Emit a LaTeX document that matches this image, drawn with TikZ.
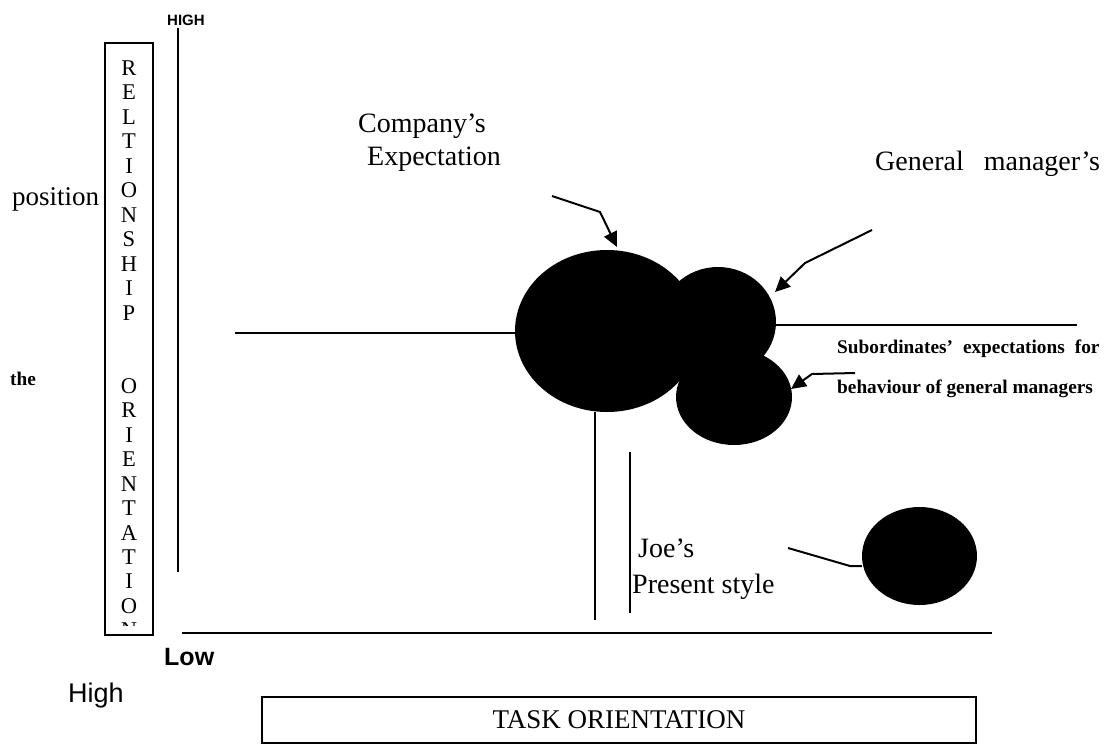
\documentclass[tikz,border=0pt]{standalone}
\usepackage{fontspec}
\setmainfont{Liberation Serif}
\setsansfont{Liberation Sans}
\usetikzlibrary{shapes.geometric,arrows.meta}
\tikzset{
  ln/.style={line width=2pt},
  arr/.style={line width=2pt,-{Triangle[length=15pt,width=14pt]}},
  blob/.style={ellipse,fill=black,draw=none,inner sep=0pt},
  big/.style={font=\fontsize{28}{33}\selectfont,inner sep=0pt,anchor=base west},
  small/.style={font=\bfseries\fontsize{19.3}{23}\selectfont,inner sep=0pt,anchor=base west},
  vlet/.style={font=\fontsize{22.5}{26}\selectfont,inner sep=0pt,anchor=base},
  sansl/.style={font=\sffamily\fontsize{27}{32}\selectfont,inner sep=0pt,anchor=base west},
  framebox/.style={draw,line width=2pt,inner sep=0pt}
}
\begin{document}
\begin{tikzpicture}[x=1pt,y=-1pt]
\useasboundingbox (0,0) rectangle (1117,745);
% axis label boxes
\node[framebox,minimum width=48pt,minimum height=592pt] (rbox) at (129,339) {};
\foreach \l [count=\i from 0] in {R,E,L,T,I,O,N,S,H,I,P}
  \node[vlet] (va\i) at (129,{75.5+24.45*\i}) {\l};
\foreach \l [count=\i from 13] in {O,R,I,E,N,T,A,T,I,O}
  \node[vlet] (vb\i) at (129,{75.5+24.45*\i}) {\l};
\begin{scope}
  \clip (106,44) rectangle (152,625.5);
  \node[vlet] (vn) at (129,{75.5+24.45*23}) {N};
\end{scope}
\node[framebox,minimum width=714pt,minimum height=46pt,font=\fontsize{27}{31}\selectfont] (tbox) at (619,720) {TASK ORIENTATION};
% labels
\node[font=\sffamily\bfseries\fontsize{15}{18}\selectfont,inner sep=0pt,anchor=base west] (high1) at (167,25) {HIGH};
\node[font=\sffamily\bfseries\fontsize{25}{30}\selectfont,inner sep=0pt,anchor=base west] (low) at (164,665) {Low};
\node[sansl] (high2) at (68,702) {High};
\node[font=\fontsize{27}{32}\selectfont,inner sep=0pt,anchor=base west] (pos) at (12,205) {position};
\node[small] (the) at (10,385) {the};
\node[big] (comp1) at (358,132) {Company’s};
\node[big] (comp2) at (367,165) {Expectation};
\node[big] (gm) at (875,170) {General\hspace{20pt}manager’s};
\node[small] (sub1) at (837,353) {Subordinates’\hspace{10pt}expectations\hspace{10pt}for};
\node[small] (sub2) at (837,393) {behaviour of general managers};
\node[big] (joe1) at (638,557) {Joe’s};
\node[big] (joe2) at (632,593) {Present style};
% blobs
\node[blob,minimum width=184pt,minimum height=162pt] (bigb) at (607,331) {};
\node[blob,minimum width=116pt,minimum height=110pt] (gmb) at (718,322) {};
\node[blob,minimum width=116pt,minimum height=96pt] (subb) at (734,397) {};
\node[blob,minimum width=115pt,minimum height=98pt] (joeb) at (919.5,556) {};
% axes and lines
\coordinate (vtop) at (178,28);
\coordinate (vbot) at (178,572);
\draw[ln] (vtop) -- (vbot);
\coordinate (hbl) at (182,633);
\coordinate (hbr) at (992,633);
\draw[ln] (hbl) -- (hbr);
\coordinate (hml) at (235,333);
\draw[ln] (hml) -- (hml -| bigb.west);
\coordinate (hmr) at (1077,325);
\draw[ln] (gmb.east |- hmr) -- (hmr);
\coordinate (v1b) at (595,620);
\draw[ln] (bigb.south -| v1b) -- (v1b);
\coordinate (v2t) at (630,452);
\coordinate (v2b) at (630,613);
\draw[ln] (v2t) -- (v2b);
% arrows
\coordinate (a1s) at (552,196);
\coordinate (a1m) at (600,212);
\coordinate (a1e) at (617,247);
\draw[arr] (a1s) -- (a1m) -- (a1e);
\coordinate (a2s) at (872,230);
\coordinate (a2m) at (805,263);
\coordinate (a2e) at (775,292);
\draw[arr] (a2s) -- (a2m) -- (a2e);
\coordinate (a3s) at (855,373);
\coordinate (a3m) at (812,374);
\coordinate (a3e) at (791,389);
\draw[arr] (a3s) -- (a3m) -- (a3e);
\coordinate (j1) at (788,548);
\coordinate (j2) at (850,566);
\draw[ln] (j1) -- (j2) -- (joeb.west |- j2);
\end{tikzpicture}
\end{document}
